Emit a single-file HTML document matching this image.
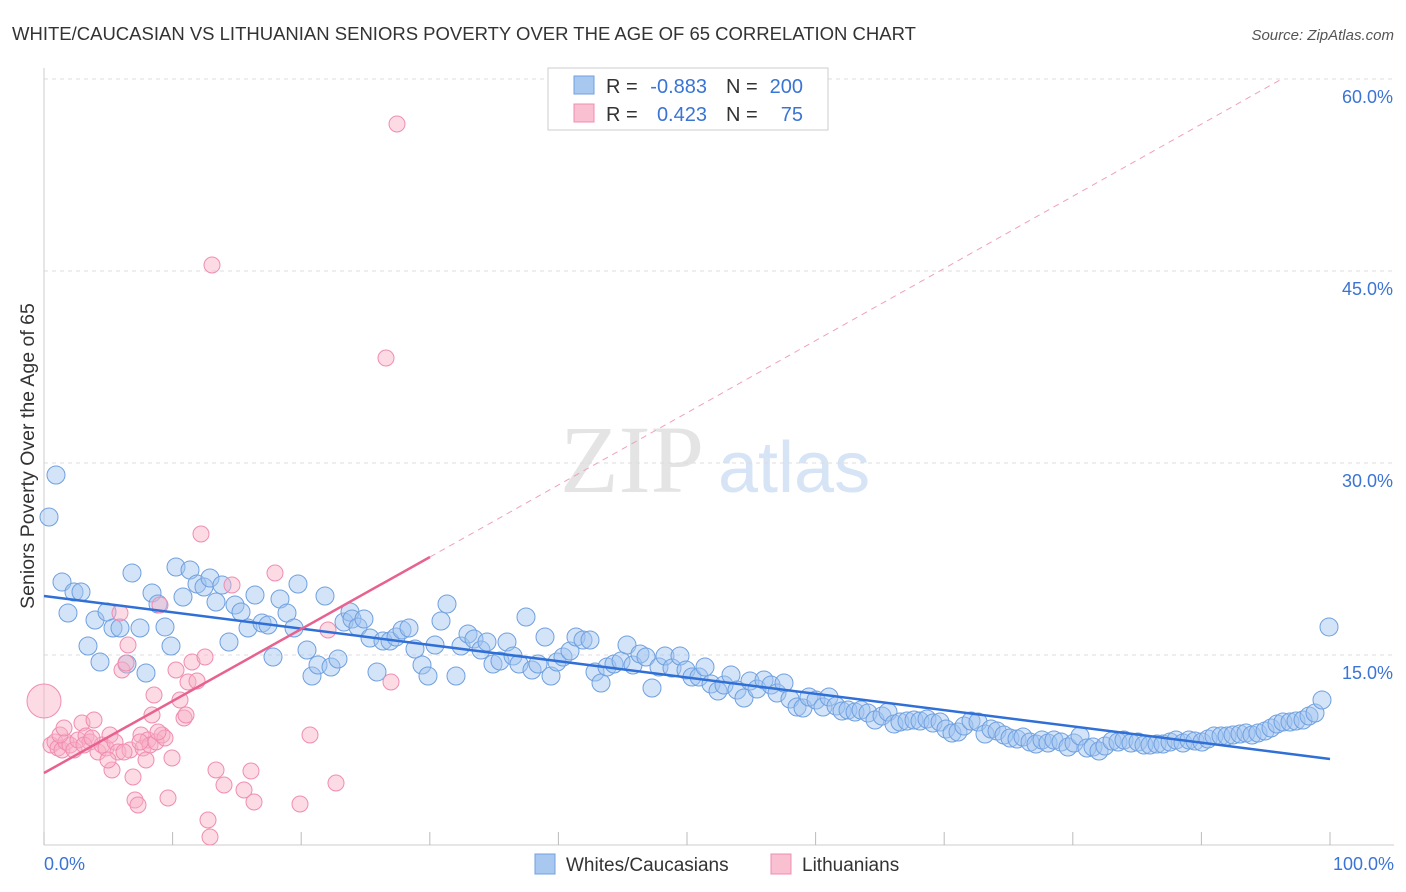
<!DOCTYPE html>
<html><head><meta charset="utf-8"><style>
body{margin:0;background:#fff;font-family:"Liberation Sans",sans-serif;}
svg{display:block}
</style></head><body>
<svg width="1406" height="892">
<text x="12" y="40" font-size="18.5" fill="#333">WHITE/CAUCASIAN VS LITHUANIAN SENIORS POVERTY OVER THE AGE OF 65 CORRELATION CHART</text>
<text x="1394" y="40" font-size="15" fill="#555" font-style="italic" text-anchor="end">Source: ZipAtlas.com</text>
<text x="560" y="492" font-size="96" fill="#e4e4e4" font-family="Liberation Serif,serif">ZIP</text>
<text x="718" y="492" font-size="72" fill="#d6e4f6">atlas</text>
<g id="grid"></g>
<g id="axes"></g>
<g id="pts"></g>
<g id="trend"></g>
<text transform="translate(34,456) rotate(-90)" font-size="19.5" fill="#333" text-anchor="middle">Seniors Poverty Over the Age of 65</text>
<g>
<rect x="548" y="68" width="280" height="62" fill="#fff" stroke="#ccc"/>
<rect x="574" y="76" width="20" height="18" fill="#a8c8f0" stroke="#6fa0e0"/>
<rect x="574" y="104" width="20" height="18" fill="#f9c0d2" stroke="#f08db0"/>
<text x="606" y="93" font-size="20" fill="#333">R =</text>
<text x="707" y="93" font-size="20" fill="#3a74d4" text-anchor="end">-0.883</text>
<text x="726" y="93" font-size="20" fill="#333">N =</text>
<text x="803" y="93" font-size="20" fill="#3a74d4" text-anchor="end">200</text>
<text x="606" y="121" font-size="20" fill="#333">R =</text>
<text x="707" y="121" font-size="20" fill="#3a74d4" text-anchor="end">0.423</text>
<text x="726" y="121" font-size="20" fill="#333">N =</text>
<text x="803" y="121" font-size="20" fill="#3a74d4" text-anchor="end">75</text>
</g>
<g>
<rect x="535" y="854" width="20" height="20" fill="#a8c8f0" stroke="#6fa0e0"/>
<text x="566" y="871" font-size="19" fill="#333">Whites/Caucasians</text>
<rect x="771" y="854" width="20" height="20" fill="#f9c0d2" stroke="#f08db0"/>
<text x="802" y="871" font-size="19" fill="#333">Lithuanians</text>
</g>
</svg>
<script>
const yTicks=[15,30,45,60];
const xTickVals=[0,10,20,30,40,50,60,70,80,90,100];
const blueXpx=[49,56,62,68,74,81,88,95,100,107,113,120,127,132,140,146,152,158,165,171,176,183,190,197,204,210,216,222,229,235,241,248,255,262,268,273,280,287,294,298,307,312,318,325,331,338,344,350,352,358,364,370,377,383,390,396,402,409,415,422,428,435,441,447,456,461,468,474,481,487,493,500,507,513,519,526,532,538,545,551,557,563,570,576,583,590,595,601,607,614,621,627,633,640,646,652,659,665,672,680,686,692,699,705,711,718,724,731,737,744,750,757,764,771,777,784,790,797,803,809,816,823,829,836,842,848,855,861,868,875,882,888,894,900,907,914,920,927,933,940,946,952,958,964,971,978,985,991,997,1004,1010,1017,1023,1030,1036,1042,1048,1054,1061,1068,1074,1080,1087,1093,1099,1105,1112,1118,1124,1131,1138,1144,1150,1157,1163,1170,1176,1183,1189,1195,1202,1208,1214,1221,1227,1233,1240,1246,1252,1258,1265,1271,1277,1283,1290,1296,1303,1309,1315,1322,1329];
const blueYpx=[517,475,582,613,592,592,646,620,662,612,628,628,664,573,628,673,593,604,627,646,567,597,570,584,587,578,602,585,642,605,612,628,595,623,625,657,599,613,628,584,650,676,665,596,667,659,622,612,619,627,619,638,672,641,641,637,630,628,649,665,676,645,621,604,676,646,634,639,650,642,664,661,642,656,664,617,670,664,637,676,662,657,651,637,640,640,672,683,667,664,661,645,665,654,657,688,667,656,668,656,670,677,677,667,684,691,685,675,690,698,681,689,680,685,693,683,699,707,708,697,700,707,697,706,711,710,712,710,713,720,716,712,724,722,721,720,721,719,723,722,729,733,732,726,721,722,734,729,731,735,738,739,737,742,744,740,743,740,742,747,743,736,748,747,751,746,741,742,740,743,742,745,745,744,744,742,740,743,740,741,742,739,736,736,736,735,734,733,735,733,731,728,724,722,722,721,720,716,713,700,627];
const pinkXpx=[48,51,55,58,62,66,70,74,78,82,86,90,94,98,102,106,110,112,115,118,120,122,126,128,130,133,135,138,141,143,146,148,150,152,154,156,160,162,165,168,172,176,180,184,188,192,197,201,205,208,210,212,216,224,232,244,251,254,275,300,310,328,336,386,391,397,60,84,108,140,158,186,64,92,124];
const pinkYpx=[720,745,742,748,750,742,745,750,740,723,736,742,720,752,745,748,735,770,742,752,613,670,663,645,750,777,800,805,735,748,760,740,745,715,695,742,605,735,738,798,758,670,700,718,682,662,681,534,657,820,837,265,770,785,585,790,771,802,573,804,735,630,783,358,682,124,735,745,760,742,732,715,728,738,752];
const toX=p=>(p-44)/12.86, toY=p=>(847-p)/12.8;
const blueX=blueXpx.map(toX), blueY=blueYpx.map(toY);
const pinkX=pinkXpx.map(toX), pinkY=pinkYpx.map(toY);
const ns="http://www.w3.org/2000/svg";
const sx=v=>44+v*12.86, sy=v=>847-v*12.8;
function mk(t,a,p){const e=document.createElementNS(ns,t);for(const k in a)e.setAttribute(k,a[k]);document.getElementById(p).appendChild(e);return e;}
yTicks.forEach(t=>{
 const l=mk('line',{x1:44,x2:1394,y1:sy(t),y2:sy(t),stroke:'#ddd','stroke-dasharray':'4,4'},'grid');
 
 
 const tx=mk('text',{x:1393,y:sy(t)+24,'font-size':18,fill:'#3a74d4','text-anchor':'end'},'grid');
 tx.textContent=t.toFixed(1)+'%';
 
 
});
const ax=mk('line',{x1:44,x2:1394,y1:845,y2:845,stroke:'#ccc'},'axes');


const ay=mk('line',{x1:44,x2:44,y1:68,y2:845,stroke:'#ccc'},'axes');


xTickVals.forEach(t=>{
 const l=mk('line',{x1:sx(t),x2:sx(t),y1:832,y2:845,stroke:'#bbb'},'axes');
 
 
});
[[0,'0.0%','start',44],[100,'100.0%','end',1394]].forEach(([v,s,a,x])=>{
 const tx=mk('text',{x:x,y:870,'font-size':18,fill:'#3a74d4','text-anchor':a},'axes');
 tx.textContent=s;
 
 
});
blueX.forEach((x,i)=>{
 const c=mk('circle',{cx:sx(x),cy:sy(blueY[i]),r:9,fill:'rgba(160,195,240,0.45)',stroke:'#6fa0e0','stroke-width':1},'pts');
 
 
});
pinkX.forEach((x,i)=>{
 const c=mk('circle',{cx:sx(x),cy:sy(pinkY[i]),r:i===0?0:8,fill:'rgba(248,175,198,0.45)',stroke:'#f08db0','stroke-width':1},'pts');
 
 
});
const big=mk('circle',{cx:44,cy:701,r:17,fill:'rgba(248,175,198,0.45)',stroke:'#f08db0'},'pts');


const bt=mk('line',{x1:44,y1:596,x2:1330,y2:759,stroke:'#2f6fd6','stroke-width':2.5},'trend');


const pd=mk('line',{x1:430,y1:557,x2:1280,y2:80,stroke:'#f0a0b8','stroke-width':1,'stroke-dasharray':'6,5'},'trend');


const pt=mk('line',{x1:44,y1:773,x2:430,y2:557,stroke:'#e8628f','stroke-width':2.5},'trend');


</script>
</body></html>
